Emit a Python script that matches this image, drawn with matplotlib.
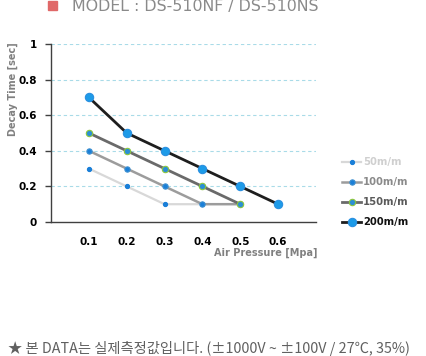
import matplotlib.pyplot as plt
from matplotlib.lines import Line2D
from matplotlib.patches import Rectangle

plt.rcParams['font.family'] = ['DejaVu Sans']

# data
pressure = [0.1, 0.2, 0.3, 0.4, 0.5, 0.6]
series_names = ["50m/m", "100m/m", "150m/m", "200m/m"]
decay_50 = [0.3, 0.2, 0.1, 0.1]
decay_100 = [0.4, 0.3, 0.2, 0.1, 0.1]
decay_150 = [0.5, 0.4, 0.3, 0.2, 0.1]
decay_200 = [0.7, 0.5, 0.4, 0.3, 0.2, 0.1]
y_ticks = [0, 0.2, 0.4, 0.6, 0.8, 1]
y_tick_labels = ["0", "0.2", "0.4", "0.6", "0.8", "1"]

# styles per series
line_colors = ["#d8d8d8", "#9c9c9c", "#6a6a6a", "#1e1e1e"]
text_colors = ["#cfcfcf", "#8a8a8a", "#5a5a5a", "#111111"]
mk_size = [3.0, 3.8, 4.6, 6.0]
mk_face = ["#1a7fd8", "#1a7fd8", "#2b8fd4", "#1d9be8"]
mk_edge = ["#1a7fd8", "#3c8fd0", "#8cc63f", "#2a8fe0"]
lw = [1.6, 1.8, 2.0, 2.0]

fig = plt.figure(figsize=(4.26, 3.56), dpi=100)
ax = fig.add_axes([51 / 426, 1 - 222 / 356, 265 / 426, 178 / 356])

all_decay = [decay_50, decay_100, decay_150, decay_200]
for i, vals in enumerate(all_decay):
    ax.plot(pressure[:len(vals)], vals, color=line_colors[i], lw=lw[i],
            marker='o', ms=mk_size[i], mfc=mk_face[i], mec=mk_edge[i],
            mew=0.8, zorder=3 + i, solid_capstyle='butt')

ax.set_xlim(0, 0.7)
ax.set_ylim(0, 1)
ax.set_yticks(y_ticks)
ax.set_yticklabels(y_tick_labels)
ax.set_xticks(pressure)
ax.set_xticklabels([f"{p:.1f}" for p in pressure])
for yv in y_ticks[1:]:
    ax.axhline(yv, color='#a9dbe8', lw=0.8, ls=(0, (3, 2.5)), zorder=1)

for s in ['top', 'right']:
    ax.spines[s].set_visible(False)
for s in ['left', 'bottom']:
    ax.spines[s].set_color('#404040')
    ax.spines[s].set_linewidth(1.0)
ax.tick_params(axis='y', length=4, width=1, color='#404040', pad=6,
               labelsize=7.5, labelcolor='black')
ax.tick_params(axis='x', length=0, pad=11, labelsize=7.5, labelcolor='black')
for lab in ax.get_xticklabels() + ax.get_yticklabels():
    lab.set_fontweight('bold')

fig.text(8 / 426, 1 - 42 / 356, "Decay Time [sec]", rotation=90, va='top',
         ha='left', fontsize=7, color='#808080', fontweight='bold')
fig.text(318 / 426, 1 - 253 / 356, "Air Pressure [Mpa]", va='center',
         ha='right', fontsize=7, color='#808080', fontweight='bold')

# title
fig.patches.append(Rectangle((48 / 426, 1 - 10 / 356), 9 / 426, 9 / 356,
                             transform=fig.transFigure, color='#e06868'))
fig.text(72 / 426, 1 - 6 / 356, "MODEL : DS-510NF / DS-510NS", va='center',
         ha='left', fontsize=11.4, color='#8a8a8a')

# legend
handles = [Line2D([], [], color=line_colors[i], lw=lw[i], marker='o',
                  ms=mk_size[i], mfc=mk_face[i], mec=mk_edge[i], mew=0.8)
           for i in range(4)]
leg = fig.legend(handles, series_names, loc='upper left',
                 bbox_to_anchor=(338 / 426, 1 - 153 / 356), frameon=False,
                 fontsize=7.2, handlelength=1.9, handletextpad=0.2,
                 labelspacing=1.0, borderaxespad=0)
for i, t in enumerate(leg.get_texts()):
    t.set_color(text_colors[i])
    t.set_fontweight('bold')

fig.text(8 / 426, 1 - 348 / 356,
         "★ 본 DATA는 실제측정값입니다. (±1000V ~ ±100V / 27℃, 35%)",
         va='center', ha='left', fontsize=10.3, color='#606060',
         family=['Noto Sans CJK KR', 'DejaVu Sans'])

fig.savefig("out.png", dpi=100, facecolor='white')
